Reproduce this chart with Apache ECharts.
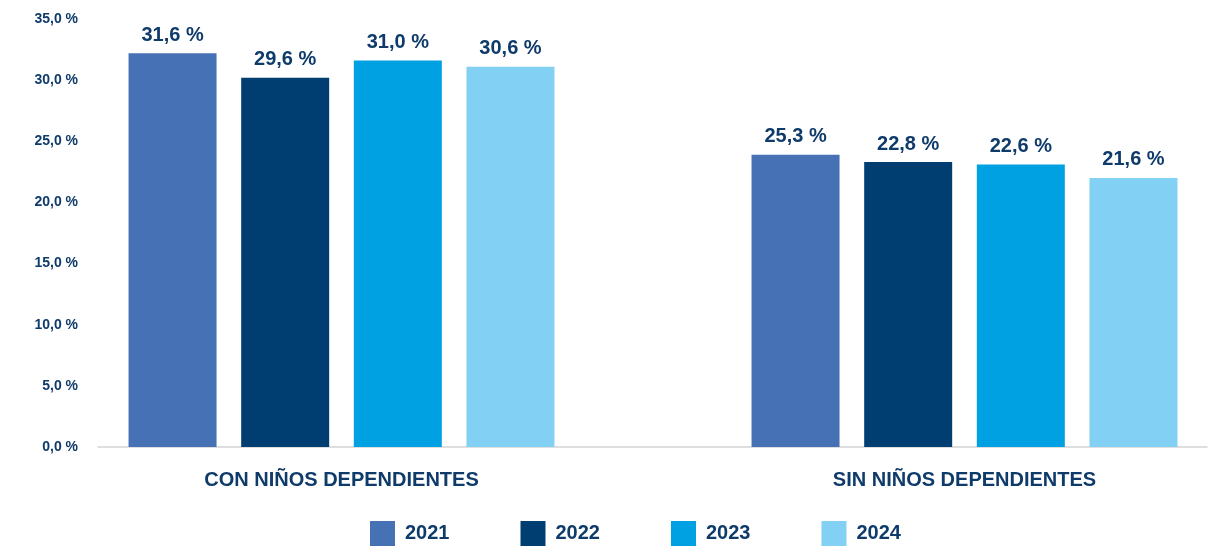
<!DOCTYPE html>
<html>
<head>
<meta charset="utf-8">
<script src="https://cdn.jsdelivr.net/npm/echarts@6/dist/echarts.min.js"></script>
<style>
  html, body { margin: 0; padding: 0; background: #fff; }
  #chart { width: 1218px; height: 546px; }
</style>
</head>
<body>
<div id="chart"></div>
<script>
// categories and years
const categories = ['CON NIÑOS DEPENDIENTES', 'SIN NIÑOS DEPENDIENTES'];
const years = ['2021', '2022', '2023', '2024'];

// bar heights as drawn in the picture (%)
const v2021 = [32.2, 23.9];
const v2022 = [30.2, 23.3];
const v2023 = [31.6, 23.1];
const v2024 = [31.1, 22.0];

// printed value labels
const l2021 = ['31,6 %', '25,3 %'];
const l2022 = ['29,6 %', '22,8 %'];
const l2023 = ['31,0 %', '22,6 %'];
const l2024 = ['30,6 %', '21,6 %'];

const yTicks = [0, 5, 10, 15, 20, 25, 30, 35];

const colors = ['#4671b4', '#003e72', '#00a1e2', '#82d0f4'];
const textColor = '#0f3b6a';
const font = '"Liberation Sans", Arial, sans-serif';

const values = [v2021, v2022, v2023, v2024];
const labels = [l2021, l2022, l2023, l2024];

const chart = echarts.init(document.getElementById('chart'));

chart.setOption({
  animation: false,
  textStyle: { fontFamily: font },
  grid: [
    // bars
    { left: 30, right: -58, top: 19, bottom: 99, outerBoundsMode: 'none' },
    // frame: baseline + y labels
    { left: 98, right: 11, top: 19, bottom: 99, outerBoundsMode: 'none' }
  ],
  legend: {
    data: years,
    left: 365,
    top: 516,
    itemWidth: 25,
    itemHeight: 25,
    itemGap: 71,
    icon: 'rect',
    textStyle: { color: textColor, fontSize: 20, fontWeight: 'bold', fontFamily: font, padding: [0, 0, 0, 5] }
  },
  xAxis: [
    {
      gridIndex: 0,
      type: 'category',
      data: categories,
      axisLine: { show: false },
      axisTick: { show: false },
      axisLabel: { color: textColor, fontSize: 20, fontWeight: 'bold', fontFamily: font, margin: 23 }
    },
    {
      gridIndex: 1,
      type: 'value',
      min: 0,
      max: 1,
      axisLine: { show: true, onZero: false, lineStyle: { color: '#d4d4d4', width: 1.5 } },
      axisTick: { show: false },
      axisLabel: { show: false },
      splitLine: { show: false }
    }
  ],
  yAxis: [
    {
      gridIndex: 0,
      type: 'value',
      min: 0,
      max: 35,
      interval: 5,
      show: false
    },
    {
      gridIndex: 1,
      type: 'value',
      min: yTicks[0],
      max: yTicks[yTicks.length - 1],
      interval: 5,
      axisLine: { show: false },
      axisTick: { show: false },
      splitLine: { show: false },
      axisLabel: {
        color: textColor,
        fontSize: 14,
        fontWeight: 'bold',
        fontFamily: font,
        margin: 20,
        formatter: v => v.toFixed(1).replace('.', ',') + ' %'
      }
    }
  ],
  series: years.map((y, i) => ({
    name: y,
    type: 'bar',
    xAxisIndex: 0,
    yAxisIndex: 0,
    data: values[i],
    barWidth: 88,
    barGap: '28%',
    itemStyle: { color: colors[i] },
    label: {
      show: true,
      position: 'top',
      distance: 8,
      color: textColor,
      fontSize: 20,
      fontWeight: 'bold',
      fontFamily: font,
      formatter: p => labels[i][p.dataIndex]
    }
  }))
});
</script>
</body>
</html>
